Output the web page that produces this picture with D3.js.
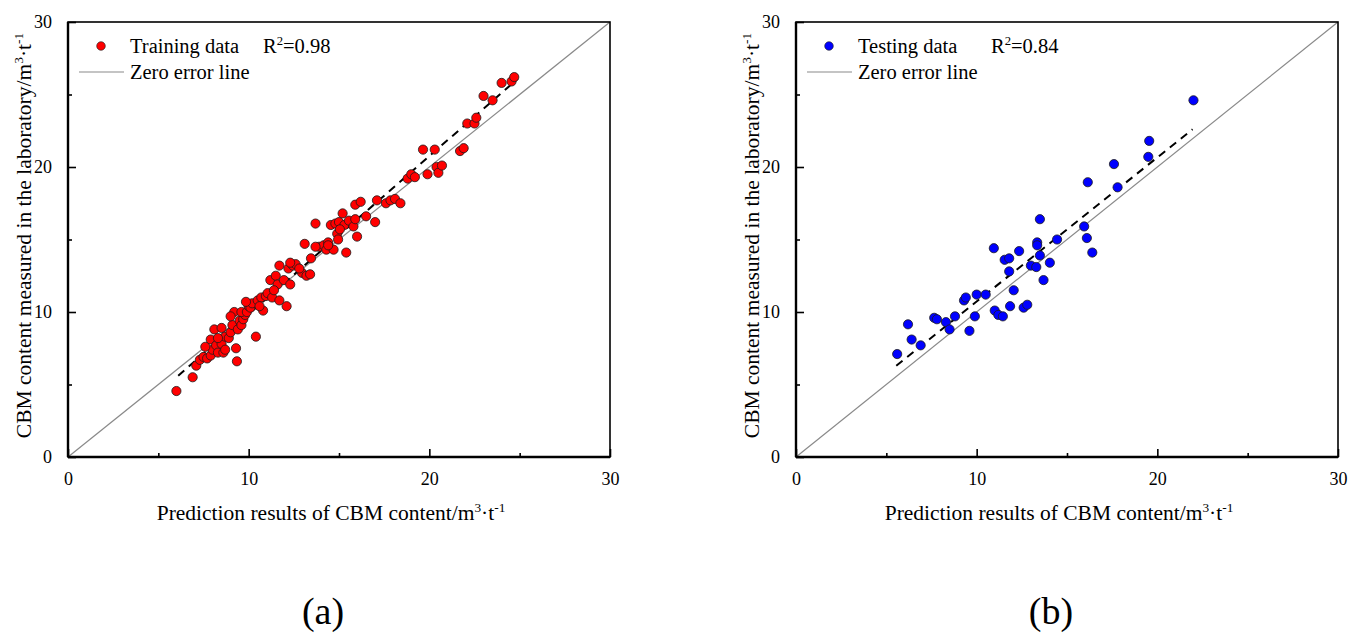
<!DOCTYPE html>
<html>
<head>
<meta charset="utf-8">
<script src="https://cdn.jsdelivr.net/npm/d3@7"></script>
<style>
  html, body { margin: 0; padding: 0; background: #fff; }
  svg, svg text, svg tspan { font-family: "Liberation Serif", "Times New Roman", serif !important; }
</style>
</head>
<body>
<svg id="chart" width="1349" height="633" font-family="Liberation Serif"></svg>
<script>
// ---------------- data ----------------
const trainPred = [6.0,6.9,7.1,7.3,7.5,7.7,7.9,8.0,7.9,8.2,8.3,8.5,8.6,8.7,8.1,8.5,8.7,8.9,9.0,9.1,9.2,9.3,9.35,9.4,9.5,9.6,9.7,9.8,9.6,9.9,10.0,10.1,10.2,10.4,10.5,10.7,10.8,10.95,11.05,11.2,11.3,11.5,11.6,11.7,11.7,11.95,12.1,12.2,12.3,12.45,12.6,12.95,13.1,13.2,13.4,13.45,13.7,13.9,14.15,14.3,14.4,14.55,14.7,14.8,14.9,14.95,15.0,15.2,15.3,15.4,15.55,15.8,15.9,16.0,15.9,16.2,16.5,17.0,17.1,17.6,17.85,18.1,18.4,18.8,19.0,19.2,19.65,19.9,20.3,20.4,20.5,20.7,21.7,21.9,22.1,22.5,22.6,23.0,23.5,24.0,24.55,24.7,7.6,8.3,9.0,9.85,10.6,11.4,12.3,12.8,13.7,14.4,15.05];
const trainMeas = [4.55,5.5,6.3,6.7,6.9,6.8,7.0,7.4,8.1,7.7,7.2,7.8,7.2,7.4,8.8,8.9,8.3,8.2,8.6,9.1,10.0,7.5,6.6,8.8,9.4,9.1,9.5,9.8,10.0,10.0,10.4,10.3,10.6,8.3,10.8,11.0,10.1,11.1,11.3,12.2,11.0,12.5,11.9,13.2,10.8,12.2,10.4,13.0,11.9,13.2,13.3,12.7,14.7,12.5,12.6,13.7,16.1,14.5,14.6,14.3,14.8,16.0,14.3,16.1,15.4,15.0,16.2,16.8,16.0,14.1,16.3,15.9,16.4,15.2,17.4,17.6,16.6,16.2,17.7,17.5,17.7,17.8,17.5,19.2,19.5,19.3,21.2,19.5,21.2,20.0,19.6,20.1,21.1,21.3,23.0,23.0,23.4,24.9,24.6,25.8,25.9,26.2,7.6,8.2,9.7,10.7,10.4,11.5,13.4,13.0,14.5,14.6,15.7];
const testPred = [5.6,6.2,6.4,6.9,7.65,7.8,8.3,8.5,8.8,9.3,9.4,9.6,9.9,10.0,10.5,10.95,11.0,11.2,11.45,11.55,11.8,11.8,11.85,12.05,12.35,12.6,12.8,13.0,13.3,13.35,13.35,13.5,13.5,13.7,14.05,14.45,15.95,16.1,16.15,16.4,17.6,17.8,19.5,19.55,22.0];
const testMeas = [7.1,9.15,8.1,7.7,9.6,9.5,9.3,8.8,9.7,10.8,11.0,8.7,9.7,11.2,11.2,14.4,10.1,9.8,9.7,13.6,13.7,12.8,10.4,11.5,14.2,10.3,10.5,13.2,13.1,14.8,14.6,16.4,13.9,12.2,13.4,15.0,15.9,15.1,18.95,14.1,20.2,18.6,20.7,21.8,24.6];
// fitted lines: [slope, intercept] and x extent
const trainFit = [1.09, -1.05];
const trainFitRange = [6.1, 24.9];
const testFit = [0.994, 0.78];
const testFitRange = [5.55, 21.95];
const majorTicks = [0, 10, 20, 30];
const minorTicks = [5, 15, 25];
const axisDomain = [0, 30];

// ---------------- drawing ----------------
const svg = d3.select("#chart");
const SERIF = "Liberation Serif";

function supText(sel, parts, size) {
  const shift = size * 0.38;
  let raised = false;
  parts.forEach(p => {
    const t = sel.append("tspan").attr("font-family", SERIF).text(p[0]);
    if (p[1] === "sup") {
      t.attr("font-size", size * 0.62).attr("dy", raised ? 0 : -shift);
      raised = true;
    } else {
      t.attr("font-size", size).attr("dy", raised ? shift : 0);
      raised = false;
    }
  });
}

function panel(cfg) {
  const x = d3.scaleLinear().domain(axisDomain).range([cfg.left, cfg.right]);
  const y = d3.scaleLinear().domain(axisDomain).range([cfg.bottom, cfg.top]);
  const g = svg.append("g").attr("font-family", SERIF);

  // zero error line
  g.append("line")
    .attr("x1", x(0)).attr("y1", y(0)).attr("x2", x(30)).attr("y2", y(30))
    .attr("stroke", "#8a8a8a").attr("stroke-width", 1.2);

  // fit line
  g.append("line")
    .attr("x1", x(cfg.fitRange[0])).attr("y1", y(cfg.fit[0] * cfg.fitRange[0] + cfg.fit[1]))
    .attr("x2", x(cfg.fitRange[1])).attr("y2", y(cfg.fit[0] * cfg.fitRange[1] + cfg.fit[1]))
    .attr("stroke", "#000").attr("stroke-width", 2).attr("stroke-dasharray", "8,6");

  // points
  g.selectAll("circle.pt").data(cfg.px.map((v, i) => [v, cfg.py[i]]))
    .enter().append("circle").attr("class", "pt")
    .attr("cx", d => x(d[0])).attr("cy", d => y(d[1])).attr("r", 4.6)
    .attr("fill", cfg.color).attr("stroke", "#1a1a1a").attr("stroke-width", 0.8);

  // axes (inward ticks)
  const xAxis = d3.axisBottom(x).tickValues(majorTicks).tickSize(-8).tickPadding(15).tickFormat(d3.format("d"));
  const xg = g.append("g").attr("transform", `translate(0,${cfg.bottom})`).call(xAxis);
  const xMinor = g.append("g").attr("transform", `translate(0,${cfg.bottom})`)
    .call(d3.axisBottom(x).tickValues(minorTicks).tickSize(-4).tickFormat(""));
  const yAxis = d3.axisLeft(y).tickValues(majorTicks).tickSize(-8).tickPadding(16).tickFormat(d3.format("d"));
  const yg = g.append("g").attr("transform", `translate(${cfg.left},0)`).call(yAxis);
  const yMinor = g.append("g").attr("transform", `translate(${cfg.left},0)`)
    .call(d3.axisLeft(y).tickValues(minorTicks).tickSize(-4).tickFormat(""));
  [xg, xMinor, yg, yMinor].forEach(a => {
    a.attr("font-family", SERIF);
    a.select(".domain").remove();
    a.selectAll(".tick line").attr("stroke", "#000").attr("stroke-width", 1.6);
    a.selectAll(".tick text").attr("font-size", 18).attr("font-family", SERIF);
  });
  xg.selectAll(".tick text").attr("dy", "0.71em");

  // frame
  g.append("rect").attr("x", cfg.left).attr("y", cfg.top)
    .attr("width", cfg.right - cfg.left).attr("height", cfg.bottom - cfg.top)
    .attr("fill", "none").attr("stroke", "#000").attr("stroke-width", 1.6);
  g.append("line").attr("x1", cfg.left).attr("x2", cfg.right).attr("y1", cfg.bottom).attr("y2", cfg.bottom)
    .attr("stroke", "#000").attr("stroke-width", 2.4);
  g.append("line").attr("x1", cfg.left).attr("x2", cfg.left).attr("y1", cfg.top).attr("y2", cfg.bottom)
    .attr("stroke", "#000").attr("stroke-width", 2.4);

  // legend
  g.append("circle").attr("cx", cfg.left + 33).attr("cy", 46).attr("r", 4.3)
    .attr("fill", cfg.color).attr("stroke", "#1a1a1a").attr("stroke-width", 0.6);
  g.append("text").attr("x", cfg.left + 62).attr("y", 53).attr("font-size", 20.5)
    .attr("font-family", SERIF).text(cfg.label);
  const r2 = g.append("text").attr("x", cfg.left + 195).attr("y", 53).attr("font-family", SERIF);
  supText(r2, [["R", "n"], ["2", "sup"], ["=" + cfg.r2, "n"]], 20.5);
  g.append("line").attr("x1", cfg.left + 11).attr("x2", cfg.left + 56).attr("y1", 72).attr("y2", 72)
    .attr("stroke", "#8a8a8a").attr("stroke-width", 1.2);
  g.append("text").attr("x", cfg.left + 62).attr("y", 79).attr("font-size", 20.5)
    .attr("font-family", SERIF).text("Zero error line");

  // axis titles
  const xt = g.append("text").attr("x", (cfg.left + cfg.right) / 2 - 8).attr("y", 520)
    .attr("text-anchor", "middle").attr("font-family", SERIF);
  supText(xt, [["Prediction results of CBM content/m", "n"], ["3", "sup"], ["\u00b7t", "n"], ["-1", "sup"]], 21.5);
  const yt = g.append("text")
    .attr("transform", `translate(${cfg.left - 37},${(cfg.top + cfg.bottom) / 2 - 4}) rotate(-90)`)
    .attr("text-anchor", "middle").attr("font-family", SERIF);
  supText(yt, [["CBM content measured in the laboratory/m", "n"], ["3", "sup"], ["\u00b7t", "n"], ["-1", "sup"]], 21.5);

  // panel tag
  g.append("text").attr("x", (cfg.left + cfg.right) / 2 - 16).attr("y", 624).attr("text-anchor", "middle")
    .attr("font-size", 38).attr("font-family", SERIF).text(cfg.tag);
}

panel({left: 68, right: 610, top: 22, bottom: 457, px: trainPred, py: trainMeas, color: "#ff0000",
  fit: trainFit, fitRange: trainFitRange, label: "Training data", r2: "0.98", tag: "(a)"});
panel({left: 796, right: 1338, top: 22, bottom: 457, px: testPred, py: testMeas, color: "#0000ff",
  fit: testFit, fitRange: testFitRange, label: "Testing data", r2: "0.84", tag: "(b)"});
</script>
</body>
</html>
